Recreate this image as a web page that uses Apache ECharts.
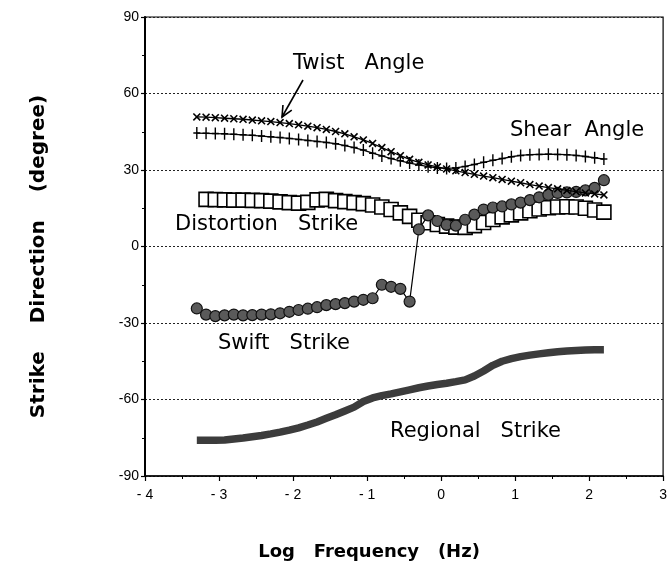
<!DOCTYPE html>
<html>
<head>
<meta charset="utf-8">
<script src="https://cdn.jsdelivr.net/npm/echarts@6/dist/echarts.min.js"></script>
<style>
  html, body { margin: 0; padding: 0; background: #fff; }
  #chart { width: 670px; height: 577px; }
</style>
</head>
<body>
<div id="chart"></div>
<script>
// log10 of frequency (Hz), shared by all curves
const logFreq = [-3.3, -3.175, -3.05, -2.925, -2.8, -2.675, -2.55, -2.425, -2.3, -2.175,
  -2.05, -1.925, -1.8, -1.675, -1.55, -1.425, -1.3, -1.175, -1.05, -0.925,
  -0.8, -0.675, -0.55, -0.425, -0.3, -0.175, -0.05, 0.075, 0.2, 0.325,
  0.45, 0.575, 0.7, 0.825, 0.95, 1.075, 1.2, 1.325, 1.45, 1.575,
  1.7, 1.825, 1.95, 2.075, 2.2];

const twistAngle = [50.8, 50.7, 50.5, 50.3, 50.1, 49.9, 49.6, 49.3, 49.0, 48.6,
  48.2, 47.7, 47.2, 46.6, 45.9, 45.1, 44.2, 43.0, 41.8, 40.4,
  38.8, 37.2, 35.6, 34.2, 33.0, 32.0, 31.2, 30.4, 29.7, 29.0,
  28.3, 27.6, 27.0, 26.3, 25.6, 25.0, 24.3, 23.7, 23.1, 22.6,
  22.0, 21.5, 21.0, 20.6, 20.2];

const shearAngle = [44.5, 44.4, 44.3, 44.2, 44.0, 43.8, 43.6, 43.3, 43.0, 42.7,
  42.4, 42.0, 41.6, 41.2, 40.8, 40.3, 39.6, 38.8, 37.8, 36.6,
  35.5, 34.5, 33.6, 32.7, 32.0, 31.3, 30.8, 30.6, 30.8, 31.4,
  32.2, 33.0, 33.8, 34.5, 35.2, 35.7, 36.0, 36.1, 36.2, 36.1,
  36.0, 35.7, 35.3, 34.8, 34.3];

const distortionStrike = [null, 18.5, 18.4, 18.3, 18.2, 18.2, 18.1, 18.0, 17.8, 17.5,
  17.2, 17.0, 17.3, 18.3, 18.5, 18.0, 17.6, 17.2, 16.8, 16.3,
  15.5, 14.5, 13.2, 11.8, 10.3, 9.3, 8.6, 8.0, 7.6, 7.5,
  8.2, 9.4, 10.6, 11.6, 12.4, 13.2, 14.0, 14.7, 15.2, 15.5,
  15.6, 15.5, 15.0, 14.3, 13.5];

const swiftStrike = [-24.3, -26.7, -27.3, -27.0, -26.7, -27.0, -26.9, -26.7, -26.6, -26.2,
  -25.6, -24.9, -24.4, -23.8, -23.0, -22.6, -22.2, -21.6, -20.9, -20.3,
  -15.0, -15.8, -16.6, -21.6, 6.7, 12.2, 10.0, 8.5, 8.2, 10.5,
  12.5, 14.5, 15.3, 15.7, 16.5, 17.2, 18.2, 19.3, 20.3, 21.0,
  21.2, 21.4, 22.0, 23.0, 26.0];

const regionalStrike = [-76.0, -76.0, -76.0, -75.9, -75.5, -75.1, -74.6, -74.1, -73.5, -72.8,
  -72.0, -71.1, -70.0, -68.8, -67.4, -66.0, -64.5, -63.0, -60.8, -59.4,
  -58.5, -57.8, -57.0, -56.2, -55.4, -54.7, -54.1, -53.6, -53.0, -52.3,
  -50.8, -48.8, -46.6, -45.0, -44.0, -43.2, -42.6, -42.1, -41.7, -41.3,
  -41.0, -40.8, -40.6, -40.5, -40.5];

const xTickLabels = { '-4': '- 4', '-3': '- 3', '-2': '- 2', '-1': '- 1', '0': '0', '1': '1', '2': '2', '3': '3' };

const annotations = [
  { text: 'Twist   Angle', x: 293, y: 64 },
  { text: 'Shear  Angle', x: 510, y: 131 },
  { text: 'Distortion   Strike', x: 175, y: 225 },
  { text: 'Swift   Strike', x: 218, y: 344 },
  { text: 'Regional   Strike', x: 390, y: 432 },
];

const pairs = arr => logFreq.map((f, i) => [f, arr[i]]).filter(p => p[1] != null);

const plusPath = 'path://M4,0H6V16H4ZM0,7H10V9H0Z';
const crossPath = 'path://M0,1.4L1.4,0L10,8.6L8.6,10ZM8.6,0L10,1.4L1.4,10L0,8.6Z';

// arrow pointing at the twist curve
const arrowTail = [303, 80];
const arrowTip = [282, 117];
function arrowHead(len, deg) {
  const dx = arrowTail[0] - arrowTip[0], dy = arrowTail[1] - arrowTip[1];
  const d = Math.hypot(dx, dy);
  const ux = dx / d, uy = dy / d;
  const a = deg * Math.PI / 180;
  const p = s => [arrowTip[0] + len * (ux * Math.cos(a) - s * uy * Math.sin(a)),
                  arrowTip[1] + len * (s * ux * Math.sin(a) + uy * Math.cos(a))];
  return [p(1), arrowTip, p(-1)];
}

const chart = echarts.init(document.getElementById('chart'));

const labelFont = 'Liberation Sans, Arial, sans-serif';
const noteFont = 'DejaVu Sans, sans-serif';

const option = {
  animation: false,
  backgroundColor: '#fff',
  grid: {
    left: 145,
    right: 2,
    top: 17,
    bottom: 101,
    show: true,
    borderColor: '#000',
    borderWidth: 1.2,
  },
  xAxis: {
    type: 'value',
    min: -4,
    max: 3,
    interval: 1,
    name: 'Log   Frequency   (Hz)',
    nameLocation: 'middle',
    nameGap: 67,
    nameTextStyle: {
      fontFamily: noteFont, fontWeight: 'bold', fontSize: 18, color: '#000',
      padding: [0, 70, 0, 0],
    },
    axisLine: { onZero: false, lineStyle: { color: '#000', width: 1.5 } },
    axisTick: { length: 5, lineStyle: { color: '#000', width: 1.2 } },
    minorTick: { show: true, splitNumber: 2, length: 3, lineStyle: { color: '#000' } },
    splitLine: { show: false },
    axisLabel: {
      color: '#000',
      fontSize: 14,
      fontFamily: labelFont,
      margin: 12,
      formatter: v => xTickLabels[String(v)],
    },
  },
  yAxis: {
    type: 'value',
    min: -90,
    max: 90,
    interval: 30,
    name: 'Strike    Direction    (degree)',
    nameLocation: 'middle',
    nameGap: 96,
    nameTextStyle: {
      fontFamily: noteFont, fontWeight: 'bold', fontSize: 20, color: '#000',
      padding: [0, 20, 0, 0],
    },
    axisLine: { onZero: false, lineStyle: { color: '#000', width: 2 } },
    axisTick: { length: 4, lineStyle: { color: '#000', width: 1.2 } },
    minorTick: { show: true, splitNumber: 2, length: 3, lineStyle: { color: '#000' } },
    splitLine: { show: true, lineStyle: { color: '#222', type: [2, 2], width: 1 } },
    axisLabel: { color: '#000', fontSize: 14, fontFamily: labelFont, margin: 6 },
  },
  series: [
    {
      name: 'Regional Strike',
      type: 'line',
      data: pairs(regionalStrike),
      showSymbol: false,
      symbol: 'none',
      lineStyle: { color: '#3c3c3c', width: 7.5 },
      z: 2,
    },
    {
      name: 'Distortion Strike',
      type: 'line',
      data: pairs(distortionStrike),
      symbol: 'rect',
      symbolSize: 14,
      itemStyle: { color: '#fff', borderColor: '#000', borderWidth: 1.6 },
      lineStyle: { color: '#000', width: 1 },
      z: 3,
    },
    {
      name: 'Swift Strike',
      type: 'line',
      data: pairs(swiftStrike),
      symbol: 'circle',
      symbolSize: 11,
      itemStyle: { color: '#5a5a5a', borderColor: '#111', borderWidth: 1.2 },
      lineStyle: { color: '#000', width: 1.2 },
      z: 4,
    },
    {
      name: 'Shear Angle',
      type: 'line',
      data: pairs(shearAngle),
      symbol: plusPath,
      symbolSize: [7, 12],
      itemStyle: { color: '#000' },
      lineStyle: { color: '#000', width: 1.3 },
      z: 5,
    },
    {
      name: 'Twist Angle',
      type: 'line',
      data: pairs(twistAngle),
      symbol: crossPath,
      symbolSize: 8,
      itemStyle: { color: '#000' },
      lineStyle: { color: '#000', width: 1.3 },
      z: 6,
    },
  ],
  graphic: [
    ...annotations.map(a => ({
      type: 'text',
      z: 20,
      style: {
        x: a.x,
        y: a.y,
        text: a.text,
        fill: '#000',
        font: '21px ' + noteFont,
        textVerticalAlign: 'middle',
      },
    })),
    {
      type: 'line',
      z: 20,
      shape: { x1: arrowTail[0], y1: arrowTail[1], x2: arrowTip[0], y2: arrowTip[1] },
      style: { stroke: '#000', lineWidth: 1.6 },
    },
    {
      type: 'polyline',
      z: 20,
      shape: { points: arrowHead(12, 25) },
      style: { stroke: '#000', lineWidth: 1.6, fill: null },
    },
  ],
};

chart.setOption(option);
</script>
</body>
</html>
